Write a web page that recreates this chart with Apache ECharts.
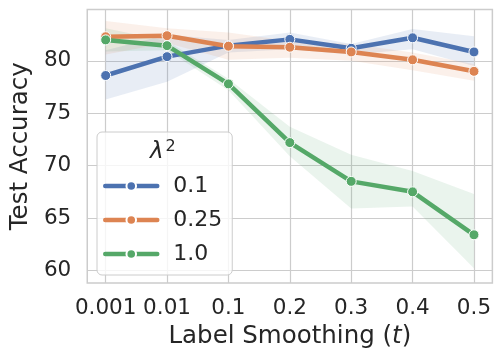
<!DOCTYPE html>
<html><head><meta charset="utf-8">
<script src="https://cdn.jsdelivr.net/npm/echarts@6/dist/echarts.min.js"></script>
<style>html,body{margin:0;padding:0;background:#fff}#c{width:494px;height:354px}</style>
</head><body><div id="c"></div>
<script>
const categories = ['0.001','0.01','0.1','0.2','0.3','0.4','0.5'];
const yTicks = [60,65,70,75,80];
const seriesNames = ['0.1','0.25','1.0'];
const acc01 = [78.6, 80.4, 81.45, 82.05, 81.2, 82.2, 80.85];
const lo01  = [76.3, 78.0, 80.8, 81.1, 80.6, 81.1, 79.5];
const hi01  = [81.0, 82.5, 82.0, 82.7, 81.6, 83.05, 82.35];
const acc025 = [82.3, 82.4, 81.4, 81.3, 80.85, 80.1, 79.0];
const lo025  = [80.6, 81.7, 80.1, 80.3, 80.0, 79.1, 78.1];
const hi025  = [83.8, 83.1, 82.7, 81.9, 81.6, 80.8, 79.7];
const acc10 = [82.0, 81.45, 77.8, 72.2, 68.5, 67.5, 63.4];
const lo10  = [80.9, 81.0, 77.2, 70.9, 65.9, 66.1, 60.2];
const hi10  = [83.1, 81.9, 78.3, 73.7, 71.05, 69.5, 67.3];

const colors = ['#4c72b0', '#dd8452', '#55a868'];
const bandFill = ['rgba(76,114,176,0.13)', 'rgba(221,132,82,0.12)', 'rgba(85,168,104,0.12)'];
const FONT = 'DejaVu Sans';
const TXT = '#262626';

function band(lo, hi, fill) {
  return {
    type: 'custom', silent: true, z: 1,
    data: lo.map((v, i) => [i, v, hi[i]]),
    encode: { x: 0, y: [1, 2] },
    renderItem: function (params, api) {
      if (params.dataIndex !== 0) return;
      const top = [], bot = [];
      for (let j = 0; j < lo.length; j++) {
        top.push(api.coord([api.value(0, j), api.value(2, j)]));
        bot.push(api.coord([api.value(0, j), api.value(1, j)]));
      }
      return { type: 'polygon', shape: { points: top.concat(bot.reverse()) }, style: { fill: fill } };
    }
  };
}
function line(name, vals, color) {
  return {
    name: name, type: 'line', z: 5,
    data: vals.map((v, i) => [i, v]),
    symbol: 'circle', symbolSize: 10,
    lineStyle: { width: 4.5, color: color },
    itemStyle: { color: color, borderColor: '#fff', borderWidth: 1 },
    emphasis: { disabled: true }
  };
}

const chart = echarts.init(document.getElementById('c'));
chart.setOption({
  animation: false,
  backgroundColor: '#fff',
  textStyle: { fontFamily: FONT },
  grid: { left: 86, top: 9.5, width: 409, height: 277.5, show: true, borderColor: '#cccccc', borderWidth: 1.5, backgroundColor: 'transparent' },
  xAxis: {
    type: 'value', min: -0.3, max: 6.3,
    name: '{n|Label Smoothing (}{i|t}{n|)}', nameLocation: 'middle', nameGap: 41,
    nameTextStyle: { rich: { n: { fontSize: 24.5, color: TXT, fontFamily: FONT }, i: { fontSize: 24.5, color: TXT, fontFamily: FONT, fontStyle: 'italic' } } },
    axisLine: { show: false },
    axisTick: { show: false, customValues: [0, 1, 2, 3, 4, 5, 6] },
    axisLabel: { customValues: [0, 1, 2, 3, 4, 5, 6], formatter: v => categories[Math.round(v)], fontSize: 21.5, color: TXT, margin: 14 },
    splitLine: { show: true, lineStyle: { color: '#cccccc', width: 1.2 } }
  },
  yAxis: {
    type: 'value', min: 58.8, max: 84.9,
    name: 'Test Accuracy', nameLocation: 'middle', nameGap: 48,
    nameTextStyle: { fontSize: 24.5, color: TXT },
    axisLine: { show: false },
    axisTick: { show: false, customValues: yTicks },
    axisLabel: { customValues: yTicks, fontSize: 21.5, color: TXT, margin: 16 },
    splitLine: { show: true, lineStyle: { color: '#cccccc', width: 1.2 } }
  },
  title: {
    text: '{l|λ}{s|2}', left: 145, top: 134, z: 20,
    textStyle: { fontWeight: 'normal', rich: { l: { fontSize: 23, fontStyle: 'italic', fontWeight: 'normal', color: TXT, fontFamily: FONT }, s: { fontSize: 16, fontWeight: 'normal', color: TXT, fontFamily: FONT, padding: [0, 0, 11, 2] } } }
  },
  legend: {
    orient: 'vertical', left: 97, top: 132,
    data: seriesNames,
    itemWidth: 52, itemHeight: 12, itemGap: 12,
    padding: [43, 10, 10, 6],
    lineStyle: { width: 4.5, cap: 'round' },
    backgroundColor: 'rgba(255,255,255,0.8)', borderColor: '#cccccc', borderWidth: 1, borderRadius: 5,
    textStyle: { fontSize: 22, color: TXT, padding: [0, 0, 0, 11] }
  },
  series: [
    band(lo01, hi01, bandFill[0]),
    band(lo025, hi025, bandFill[1]),
    band(lo10, hi10, bandFill[2]),
    line(seriesNames[0], acc01, colors[0]),
    line(seriesNames[1], acc025, colors[1]),
    line(seriesNames[2], acc10, colors[2])
  ]
});
</script></body></html>
